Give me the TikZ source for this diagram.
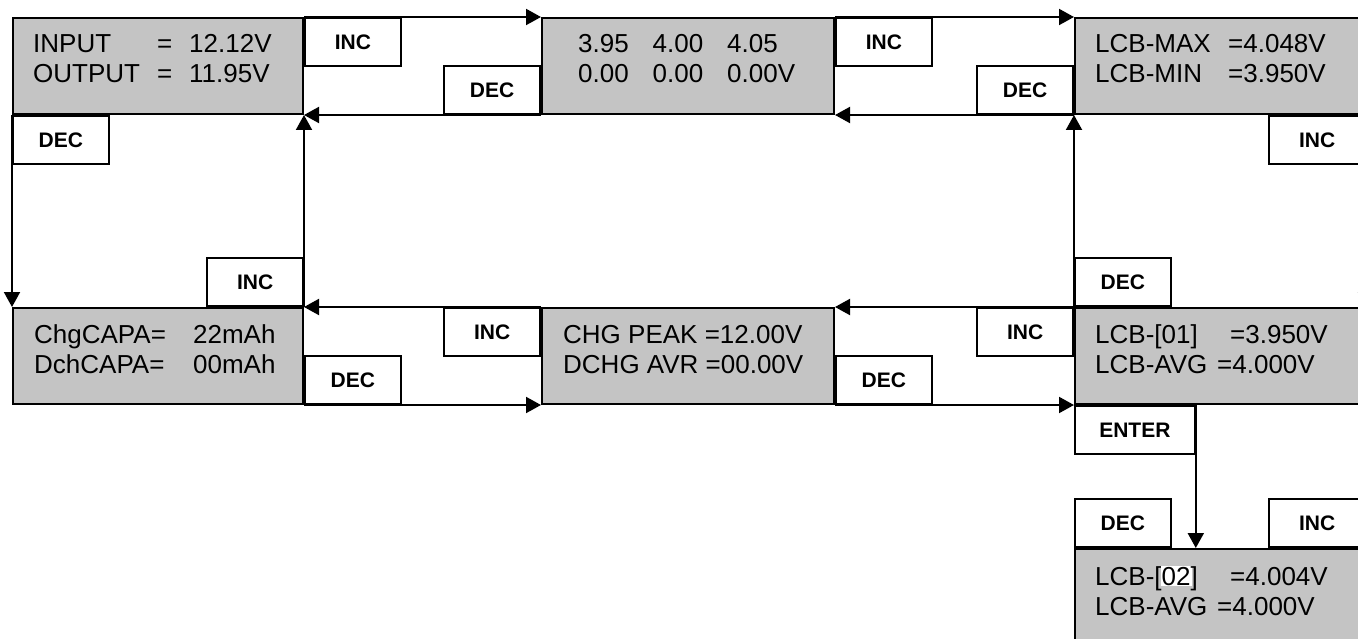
\documentclass[tikz,border=0pt]{standalone}
\usepackage{fontspec}
\setmainfont{Liberation Sans}
\usetikzlibrary{arrows.meta}
\definecolor{lcdgray}{RGB}{196,196,196}
\tikzset{
  lcd/.style={draw=black, line width=2pt, fill=lcdgray, minimum width=290pt, minimum height=96pt, inner sep=0pt, anchor=north west},
  lbl/.style={draw=black, line width=1.8pt, fill=white, minimum width=96pt, minimum height=48pt, inner sep=0pt, font=\bfseries\fontsize{21}{22}\selectfont},
  boxtext/.style={anchor=base west, inner sep=0pt, font=\fontsize{26}{30}\selectfont},
  conn/.style={line width=2pt, -{Triangle[length=15pt,width=16pt]}},
}
\newcommand{\twolines}[2]{\begin{tabular}[t]{@{}l@{}}#1\\#2\end{tabular}}
\begin{document}
\begin{tikzpicture}[x=1pt,y=-1pt]
\useasboundingbox (0,0) rectangle (1358,639);
\clip (0,0) rectangle (1358,639);
\fill[white] (0,0) rectangle (1358,639);

% display boxes
\node[lcd] (b1) at (12,17) {};
\node[lcd, minimum width=292pt] (b2) at (541,17) {};
\node[lcd] (b3) at (1074,17) {};
\node[lcd] (b4) at (12,307) {};
\node[lcd, minimum width=292pt] (b5) at (541,307) {};
\node[lcd] (b6) at (1074,307) {};
\node[lcd] (b7) at (1074,548) {};

% display texts
\node[boxtext] (t1) at (33,53) {\twolines{\makebox[124pt][l]{INPUT}\makebox[32pt][l]{=}12.12V}{\makebox[124pt][l]{OUTPUT}\makebox[32pt][l]{=}11.95V}};
\node[boxtext] (t2) at (578,53) {\twolines{\makebox[74.5pt][l]{3.95}\makebox[74.5pt][l]{4.00}4.05}{\makebox[74.5pt][l]{0.00}\makebox[74.5pt][l]{0.00}0.00V}};
\node[boxtext] (t3) at (1095,53) {\twolines{\makebox[133pt][l]{LCB-MAX}=4.048V}{\makebox[133pt][l]{LCB-MIN}=3.950V}};
\node[boxtext] (t4) at (34,343) {\twolines{\makebox[159pt][l]{ChgCAPA=}22mAh}{\makebox[159pt][l]{DchCAPA=}00mAh}};
\node[boxtext] (t5) at (563,343) {\twolines{CHG PEAK =12.00V}{DCHG AVR =00.00V}};
\node[boxtext] (t6) at (1095,343) {\twolines{\makebox[135pt][l]{LCB-[01]}=3.950V}{\makebox[122pt][l]{LCB-AVG}=4.000V}};
\node[boxtext] (t7) at (1095,585) {\twolines{\makebox[135pt][l]{LCB-[\kern-1pt{\fboxsep=1pt\colorbox{white}{02}}\kern-1pt]}=4.004V}{\makebox[122pt][l]{LCB-AVG}=4.000V}};

% key labels
\node[lbl, anchor=north west] (inc1) at (b1.north east) {INC};
\node[lbl, anchor=south east] (dec1) at (b2.south west) {DEC};
\node[lbl, anchor=north west] (inc2) at (b2.north east) {INC};
\node[lbl, anchor=south east] (dec2) at (b3.south west) {DEC};
\node[lbl, anchor=north west] (dec3) at (b1.south west) {DEC};
\node[lbl, anchor=south east] (inc3) at (b4.north east) {INC};
\node[lbl, anchor=north east] (inc4) at (b3.south east) {INC};
\node[lbl, anchor=south west] (dec4) at (b6.north west) {DEC};
\node[lbl, anchor=north east] (inc5) at (b5.north west) {INC};
\node[lbl, anchor=south west] (dec5) at (b4.south east) {DEC};
\node[lbl, anchor=north east] (inc6) at (b6.north west) {INC};
\node[lbl, anchor=south west] (dec6) at (b5.south east) {DEC};
\node[lbl, anchor=north west, minimum width=120pt] (enter) at (b6.south west) {ENTER};
\node[lbl, anchor=south west] (dec7) at (b7.north west) {DEC};
\node[lbl, anchor=south east] (inc7) at (b7.north east) {INC};

% connectors
\draw[conn] (b1.north east) -- (b2.north west);
\draw[conn] (b2.south west) -- (b1.south east);
\draw[conn] (b2.north east) -- (b3.north west);
\draw[conn] (b3.south west) -- (b2.south east);
\draw[conn] (b1.south west) -- (b4.north west);
\draw[conn] (b4.north east) -- (b1.south east);
\draw[conn] (b6.north west) -- (b3.south west);
\draw[conn] (b3.south east) -- (b6.north east);
\draw[conn] (b6.north west) -- (b5.north east);
\draw[conn] (b5.north west) -- (b4.north east);
\draw[conn] (b4.south east) -- (b5.south west);
\draw[conn] (b5.south east) -- (b6.south west);
\draw[conn] (enter.north east) -- (enter.north east |- b7.north);
\end{tikzpicture}
\end{document}
